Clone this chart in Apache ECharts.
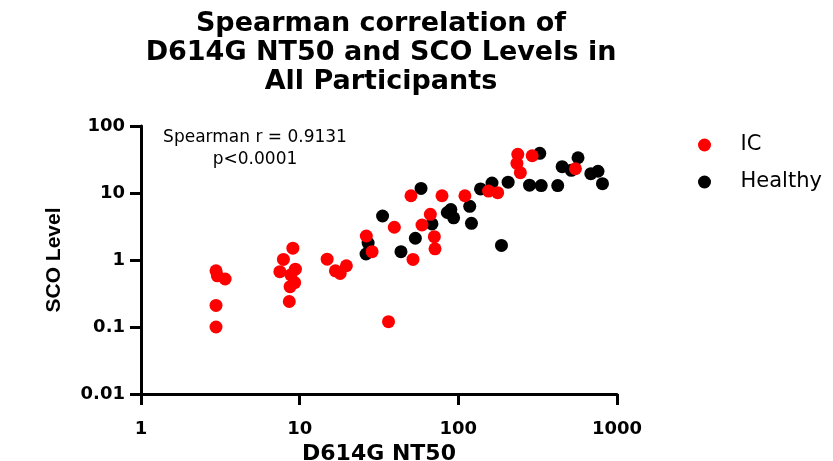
<!DOCTYPE html>
<html>
<head>
<meta charset="utf-8">
<script src="https://cdn.jsdelivr.net/npm/echarts@6/dist/echarts.min.js"></script>
<style>
html,body{margin:0;padding:0;background:#fff;}
#chart{width:833px;height:461px;}
</style>
</head>
<body>
<div id="chart"></div>
<script>
// ---- data ----
var titleText = 'Spearman correlation of\nD614G NT50 and SCO Levels in\nAll Participants';
var statText = 'Spearman r = 0.9131\np<0.0001';
var xAxisName = 'D614G NT50';
var yAxisName = 'SCO Level';
var seriesNames = ['IC', 'Healthy'];
var xTickLabels = ['1', '10', '100', '1000'];
var yTickLabels = ['0.01', '0.1', '1', '10', '100'];

var icX = [2.97, 3.03, 3.39, 2.97, 2.97, 9.06, 7.9, 7.5, 9.4, 8.8, 9.3, 8.7, 8.6,
           14.9, 16.8, 18.0, 19.7, 36.3, 26.3, 28.6, 39.5, 50.3, 51.8, 59, 66.6,
           70.6, 71.3, 78.9, 110, 155, 177, 237, 234, 246, 292, 547];
var icY = [0.69, 0.58, 0.52, 0.21, 0.10, 1.5, 1.02, 0.67, 0.73, 0.6, 0.46, 0.40, 0.24,
           1.03, 0.69, 0.63, 0.82, 0.12, 2.28, 1.33, 3.08, 9.1, 1.02, 3.33, 4.8,
           2.23, 1.47, 9.1, 9.1, 10.7, 10.1, 37.8, 27.7, 20.1, 36, 23];

var healthyX = [27, 26.2, 33.3, 43.5, 53.6, 58.2, 68.2, 85.2, 89.7, 93.4, 118, 121,
                138, 163, 187, 206, 281, 326, 333, 423, 451, 515, 568, 684, 759, 810];
var healthyY = [1.79, 1.23, 4.54, 1.33, 2.11, 11.7, 3.45, 5.12, 5.67, 4.26, 6.33, 3.53,
                11.5, 14.1, 1.65, 14.5, 13.1, 39.1, 12.9, 12.9, 24.7, 21.8, 33.6, 19.4, 21.1, 13.8];

function pairs(xs, ys) {
  return xs.map(function (x, i) { return [x, ys[i]]; });
}
function tickLabel(list, minExp) {
  return function (v) {
    var idx = Math.round(Math.log10(v)) - minExp;
    return list[idx] !== undefined ? list[idx] : '';
  };
}

var chart = echarts.init(document.getElementById('chart'), null, {renderer: 'canvas'});
var boldFont = 'DejaVu Sans';
var option = {
  backgroundColor: '#ffffff',
  animation: false,
  title: [{
    text: titleText,
    left: 376,
    top: 4,
    textAlign: 'center',
    textStyle: {
      fontFamily: boldFont, fontWeight: 'bold', fontSize: 27, lineHeight: 29, color: '#000'
    }
  }, {
    text: statText,
    left: 250,
    top: 122,
    textAlign: 'center',
    textStyle: {
      fontFamily: 'DejaVu Sans', fontWeight: 'normal', fontSize: 17, lineHeight: 22, color: '#000'
    }
  }],
  legend: {
    data: [seriesNames[0], seriesNames[1]],
    orient: 'vertical',
    left: 693,
    top: 128,
    itemWidth: 62,
    itemHeight: 13,
    itemGap: 13,
    icon: 'circle',
    textStyle: {
      fontFamily: 'DejaVu Sans', fontSize: 21, lineHeight: 24, color: '#000'
    }
  },
  grid: {left: 141, top: 126, width: 476, height: 268, containLabel: false, outerBoundsMode: 'none'},
  xAxis: {
    type: 'log',
    logBase: 10,
    min: 1,
    max: 1000,
    name: xAxisName,
    nameLocation: 'middle',
    nameGap: 42,
    nameTextStyle: {fontFamily: boldFont, fontWeight: 'bold', fontSize: 22, color: '#000'},
    axisLine: {show: true, lineStyle: {color: '#000', width: 3}},
    axisTick: {show: true, length: 11, lineStyle: {color: '#000', width: 3}},
    minorTick: {show: false},
    splitLine: {show: false},
    axisLabel: {
      fontFamily: boldFont, fontWeight: 'bold', fontSize: 18, color: '#000', margin: 26,
      formatter: tickLabel(xTickLabels, 0)
    }
  },
  yAxis: {
    type: 'log',
    logBase: 10,
    min: 0.01,
    max: 100,
    name: yAxisName,
    nameLocation: 'middle',
    nameGap: 76,
    nameRotate: 90,
    nameTextStyle: {fontFamily: 'Liberation Sans', fontWeight: 'bold', fontSize: 21, color: '#000'},
    axisLine: {show: true, lineStyle: {color: '#000', width: 3}},
    axisTick: {show: true, length: 11, lineStyle: {color: '#000', width: 3}},
    minorTick: {show: false},
    splitLine: {show: false},
    axisLabel: {
      fontFamily: boldFont, fontWeight: 'bold', fontSize: 18, color: '#000', margin: 16,
      formatter: tickLabel(yTickLabels, -2)
    }
  },
  series: [{
    name: seriesNames[1],
    type: 'scatter',
    symbol: 'circle',
    symbolSize: 13,
    itemStyle: {color: '#000000', opacity: 1},
    data: pairs(healthyX, healthyY),
    z: 2
  }, {
    name: seriesNames[0],
    type: 'scatter',
    symbol: 'circle',
    symbolSize: 13,
    itemStyle: {color: '#ff0000', opacity: 1},
    data: pairs(icX, icY),
    z: 3
  }]
};
chart.setOption(option);
</script>
</body>
</html>
